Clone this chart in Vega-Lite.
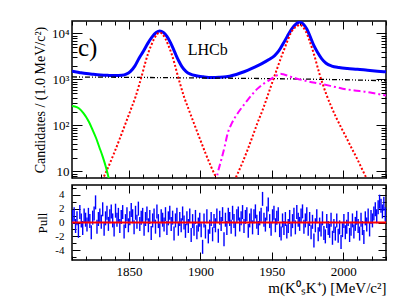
{
"$schema": "https://vega.github.io/schema/vega-lite/v6.json",
"background": "white",
"padding": {"left": 32, "top": 19, "right": 24, "bottom": 1},
"spacing": 3,
"config": {
  "font": "Liberation Serif, Times New Roman, serif",
  "view": {"stroke": "#000", "strokeWidth": 1.5},
  "axis": {"domain": false, "grid": false, "labelFont": "Liberation Serif, Times New Roman, serif", "titleFont": "Liberation Serif, Times New Roman, serif", "labelColor": "#000", "titleColor": "#000", "tickColor": "#000", "titleFontWeight": "normal", "tickWidth": 1, "minExtent": 0},
  "axisY": {"minExtent": 0},
  "axisX": {"minExtent": 0}
},
"vconcat": [
{
  "width": 314, "height": 157,
  "resolve": {"axis": {"x": "independent", "y": "independent"}},
  "layer": [
    {
      "data": {"values": [
        {"m":1810,"v":1510},{"m":1815,"v":1420},{"m":1820,"v":1340},{"m":1825,"v":1290},{"m":1830,"v":1250},{"m":1835,"v":1225},{"m":1840,"v":1210},{"m":1845,"v":1230},{"m":1848,"v":1300},{"m":1851,"v":1500},{"m":1854,"v":1950},{"m":1857,"v":2900},{"m":1860,"v":4100},{"m":1863,"v":6000},{"m":1866,"v":8300},{"m":1869,"v":10500},{"m":1871.5,"v":11300},{"m":1874,"v":10500},{"m":1876.5,"v":8600},{"m":1879,"v":6300},{"m":1881,"v":4600},{"m":1883,"v":3300},{"m":1885,"v":2450},{"m":1887,"v":1900},{"m":1890,"v":1480},{"m":1893,"v":1300},{"m":1897,"v":1200},{"m":1902,"v":1140},{"m":1908,"v":1100},{"m":1913,"v":1110},{"m":1918,"v":1140},{"m":1923,"v":1230},{"m":1928,"v":1380},{"m":1933,"v":1580},{"m":1938,"v":1850},{"m":1943,"v":2200},{"m":1948,"v":2700},{"m":1952,"v":3300},{"m":1955,"v":4200},{"m":1958,"v":6000},{"m":1961,"v":8800},{"m":1964,"v":12500},{"m":1967,"v":16000},{"m":1969.5,"v":17600},{"m":1972,"v":16000},{"m":1974.5,"v":12500},{"m":1977,"v":8300},{"m":1979.5,"v":5400},{"m":1982,"v":3900},{"m":1985,"v":2800},{"m":1988,"v":2250},{"m":1992,"v":1950},{"m":1997,"v":1810},{"m":2003,"v":1720},{"m":2010,"v":1660},{"m":2017,"v":1580},{"m":2024,"v":1510},{"m":2030,"v":1460}
      ]},
      "mark": {"type": "line", "color": "#0000ff", "strokeWidth": 3, "interpolate": "monotone", "clip": true},
      "encoding": {
        "x": {"field": "m", "type": "quantitative", "scale": {"domain": [1810, 2030], "nice": false, "zero": false},
              "axis": {"orient": "bottom", "title": null, "labels": false, "values": [1810,1820,1830,1840,1850,1860,1870,1880,1890,1900,1910,1920,1930,1940,1950,1960,1970,1980,1990,2000,2010,2020,2030], "tickSize": -8, "tickDash": {"condition": {"test": "datum.value % 50 != 0", "value": [4, 20]}, "value": []}}},
        "y": {"field": "v", "type": "quantitative", "scale": {"type": "log", "domain": [7.2, 18600], "nice": false},
              "axis": {"orient": "left", "title": "Candidates / (1.0 MeV/c²)", "titleFontSize": 14, "titlePadding": 4, "labelFontSize": 13, "labelPadding": 13, "tickSize": -10,
                       "values": [8,9,10,20,30,40,50,60,70,80,90,100,200,300,400,500,600,700,800,900,1000,2000,3000,4000,5000,6000,7000,8000,9000,10000],
                       "labelExpr": "datum.value == 10 ? '10' : datum.value == 100 ? '10²' : datum.value == 1000 ? '10³' : datum.value == 10000 ? '10⁴' : ''",
                       "tickDash": {"condition": {"test": "indexof([10,100,1000,10000], datum.value) < 0", "value": [5, 20]}, "value": []}}}
      }
    },
    {
      "data": {"values": [
        {"m":1810,"v":1130},{"m":1850,"v":1110},{"m":1900,"v":1075},{"m":1950,"v":1040},{"m":2000,"v":985},{"m":2030,"v":935}
      ]},
      "mark": {"type": "line", "color": "#000000", "strokeWidth": 1.3, "strokeDash": [5, 2, 1, 2, 1, 2], "clip": true},
      "encoding": {
        "x": {"field": "m", "type": "quantitative", "scale": {"domain": [1810, 2030], "nice": false, "zero": false},
              "axis": {"orient": "top", "title": null, "labels": false, "values": [1810,1820,1830,1840,1850,1860,1870,1880,1890,1900,1910,1920,1930,1940,1950,1960,1970,1980,1990,2000,2010,2020,2030], "tickSize": -8, "tickDash": {"condition": {"test": "datum.value % 50 != 0", "value": [4, 20]}, "value": []}}},
        "y": {"field": "v", "type": "quantitative", "scale": {"type": "log", "domain": [7.2, 18600], "nice": false},
              "axis": {"orient": "right", "title": null, "labels": false, "tickSize": -10,
                       "values": [8,9,10,20,30,40,50,60,70,80,90,100,200,300,400,500,600,700,800,900,1000,2000,3000,4000,5000,6000,7000,8000,9000,10000],
                       "tickDash": {"condition": {"test": "indexof([10,100,1000,10000], datum.value) < 0", "value": [5, 20]}, "value": []}}}
      }
    },
    {
      "data": {"values": [
        {"m":1827.5,"v":3.8},{"m":1831.5,"v":6.8},{"m":1835.5,"v":12.6},{"m":1839.5,"v":25},{"m":1843.5,"v":52},{"m":1847.5,"v":110},{"m":1851.5,"v":234},{"m":1854.5,"v":417},{"m":1857.5,"v":850},{"m":1859.5,"v":1410},{"m":1861.5,"v":2400},{"m":1863.5,"v":3800},{"m":1865.5,"v":5500},{"m":1867.5,"v":7590},{"m":1869.5,"v":9550},{"m":1871.5,"v":10470},{"m":1873.5,"v":9550},{"m":1875.5,"v":7590},{"m":1877.5,"v":5500},{"m":1879.5,"v":3800},{"m":1881.5,"v":2400},{"m":1883.5,"v":1410},{"m":1885.5,"v":850},{"m":1888.5,"v":417},{"m":1891.5,"v":234},{"m":1895.5,"v":110},{"m":1899.5,"v":52},{"m":1903.5,"v":25},{"m":1907.5,"v":12.6},{"m":1911.5,"v":6.8},{"m":1915.5,"v":3.8}
      ]},
      "mark": {"type": "line", "color": "#ff0000", "strokeWidth": 2, "strokeDash": [2, 2], "interpolate": "monotone", "clip": true},
      "encoding": {
        "x": {"field": "m", "type": "quantitative", "scale": {"domain": [1810, 2030], "nice": false, "zero": false}, "axis": null},
        "y": {"field": "v", "type": "quantitative", "scale": {"type": "log", "domain": [7.2, 18600], "nice": false}, "axis": null}
      }
    },
    {
      "data": {"values": [
        {"m":1922.5,"v":5.2},{"m":1926,"v":8.9},{"m":1929.5,"v":15.8},{"m":1933,"v":29.5},{"m":1936.5,"v":57.5},{"m":1939.8,"v":110},{"m":1943.5,"v":214},{"m":1946.8,"v":417},{"m":1950.5,"v":891},{"m":1954.1,"v":1860},{"m":1957.5,"v":3630},{"m":1959.5,"v":5250},{"m":1961.5,"v":7590},{"m":1963.5,"v":10500},{"m":1965.5,"v":12800},{"m":1967.5,"v":14100},{"m":1969.5,"v":15500},{"m":1971.5,"v":14100},{"m":1973.5,"v":11500},{"m":1976.3,"v":7080},{"m":1979.5,"v":3550},{"m":1983.3,"v":1350},{"m":1988,"v":490},{"m":1991.5,"v":263},{"m":1995,"v":151},{"m":1998.5,"v":91},{"m":2002,"v":56},{"m":2005.5,"v":34},{"m":2009,"v":21},{"m":2014.8,"v":8.9},{"m":2018.5,"v":5.2}
      ]},
      "mark": {"type": "line", "color": "#ff0000", "strokeWidth": 2, "strokeDash": [2, 2], "interpolate": "monotone", "clip": true},
      "encoding": {
        "x": {"field": "m", "type": "quantitative", "scale": {"domain": [1810, 2030], "nice": false, "zero": false}, "axis": null},
        "y": {"field": "v", "type": "quantitative", "scale": {"type": "log", "domain": [7.2, 18600], "nice": false}, "axis": null}
      }
    },
    {
      "data": {"values": [
        {"m":1910.5,"v":5},{"m":1912,"v":8.9},{"m":1914.4,"v":17},{"m":1917,"v":35},{"m":1919,"v":66},{"m":1922,"v":112},{"m":1926,"v":182},{"m":1930,"v":269},{"m":1933,"v":355},{"m":1937,"v":500},{"m":1940,"v":630},{"m":1944,"v":794},{"m":1947,"v":912},{"m":1950,"v":1050},{"m":1953,"v":1200},{"m":1956,"v":1320},{"m":1958,"v":1290},{"m":1962,"v":1175},{"m":1967,"v":1050},{"m":1975,"v":912},{"m":1983,"v":813},{"m":1991,"v":724},{"m":1999.7,"v":630},{"m":2008,"v":575},{"m":2016,"v":537},{"m":2023,"v":490},{"m":2030,"v":447}
      ]},
      "mark": {"type": "line", "color": "#ff00ff", "strokeWidth": 2, "strokeDash": [7, 3, 2, 3], "interpolate": "monotone", "clip": true},
      "encoding": {
        "x": {"field": "m", "type": "quantitative", "scale": {"domain": [1810, 2030], "nice": false, "zero": false}, "axis": null},
        "y": {"field": "v", "type": "quantitative", "scale": {"type": "log", "domain": [7.2, 18600], "nice": false}, "axis": null}
      }
    },
    {
      "data": {"values": [
        {"m":1810,"v":263},{"m":1812,"v":257},{"m":1815,"v":234},{"m":1818,"v":186},{"m":1820,"v":151},{"m":1822,"v":117},{"m":1824.5,"v":79},{"m":1827,"v":52},{"m":1829.1,"v":34},{"m":1831.5,"v":21},{"m":1833.8,"v":12.3},{"m":1836,"v":6.6},{"m":1838,"v":3.5}
      ]},
      "mark": {"type": "line", "color": "#00ff00", "strokeWidth": 2, "interpolate": "monotone", "clip": true},
      "encoding": {
        "x": {"field": "m", "type": "quantitative", "scale": {"domain": [1810, 2030], "nice": false, "zero": false}, "axis": null},
        "y": {"field": "v", "type": "quantitative", "scale": {"type": "log", "domain": [7.2, 18600], "nice": false}, "axis": null}
      }
    },
    {
      "data": {"values": [{"m": 1814.2, "v": 3160, "t": "c)"}]},
      "mark": {"type": "text", "align": "left", "baseline": "alphabetic", "fontSize": 25, "font": "Liberation Serif, Times New Roman, serif", "color": "#000"},
      "encoding": {
        "x": {"field": "m", "type": "quantitative", "scale": {"domain": [1810, 2030], "nice": false, "zero": false}, "axis": null},
        "y": {"field": "v", "type": "quantitative", "scale": {"type": "log", "domain": [7.2, 18600], "nice": false}, "axis": null},
        "text": {"field": "t"}
      }
    },
    {
      "data": {"values": [{"m": 1891.1, "v": 3400, "t": "LHCb"}]},
      "mark": {"type": "text", "align": "left", "baseline": "alphabetic", "fontSize": 16, "font": "Liberation Serif, Times New Roman, serif", "color": "#000"},
      "encoding": {
        "x": {"field": "m", "type": "quantitative", "scale": {"domain": [1810, 2030], "nice": false, "zero": false}, "axis": null},
        "y": {"field": "v", "type": "quantitative", "scale": {"type": "log", "domain": [7.2, 18600], "nice": false}, "axis": null},
        "text": {"field": "t"}
      }
    }
  ]
},
{
  "width": 314, "height": 75,
  "resolve": {"axis": {"x": "independent", "y": "independent"}},
  "layer": [
    {
      "data": {"values": [
        {"m":1810.5,"p":0.8},{"m":1811.5,"p":1.2},{"m":1812.5,"p":-0.5},{"m":1813.5,"p":0.6},{"m":1814.5,"p":-1.2},{"m":1815.5,"p":1.5},{"m":1816.5,"p":0.3},{"m":1817.5,"p":-0.8},{"m":1818.5,"p":1.0},{"m":1819.5,"p":0.4},
        {"m":1820.5,"p":-0.3},{"m":1821.5,"p":1.1},{"m":1822.5,"p":0.2},{"m":1823.5,"p":-1.4},{"m":1824.5,"p":0.7},{"m":1825.5,"p":1.3},{"m":1826.5,"p":2.9},{"m":1827.5,"p":-0.6},{"m":1828.5,"p":0.5},{"m":1829.5,"p":1.0},
        {"m":1830.5,"p":0.1},{"m":1831.5,"p":1.9},{"m":1832.5,"p":-0.9},{"m":1833.5,"p":0.6},{"m":1834.5,"p":1.4},{"m":1835.5,"p":-0.2},{"m":1836.5,"p":0.9},{"m":1837.5,"p":1.6},{"m":1838.5,"p":0.3},{"m":1839.5,"p":-1.0},
        {"m":1840.5,"p":1.7},{"m":1841.5,"p":0.4},{"m":1842.5,"p":1.1},{"m":1843.5,"p":-0.5},{"m":1844.5,"p":0.8},{"m":1845.5,"p":1.5},{"m":1846.5,"p":-1.3},{"m":1847.5,"p":0.2},{"m":1848.5,"p":1.2},{"m":1849.5,"p":-0.4},
        {"m":1850.5,"p":0.6},{"m":1851.5,"p":1.8},{"m":1852.5,"p":0.9},{"m":1853.5,"p":-0.7},{"m":1854.5,"p":1.4},{"m":1855.5,"p":0.1},{"m":1856.5,"p":2.0},{"m":1857.5,"p":-0.2},{"m":1858.5,"p":0.7},{"m":1859.5,"p":1.1},
        {"m":1860.5,"p":-0.9},{"m":1861.5,"p":0.5},{"m":1862.5,"p":1.3},{"m":1863.5,"p":-0.4},{"m":1864.5,"p":0.8},{"m":1865.5,"p":-1.5},{"m":1866.5,"p":0.3},{"m":1867.5,"p":1.0},{"m":1868.5,"p":-0.6},{"m":1869.5,"p":1.6},
        {"m":1870.5,"p":0.2},{"m":1871.5,"p":-1.1},{"m":1872.5,"p":0.9},{"m":1873.5,"p":0.4},{"m":1874.5,"p":-0.3},{"m":1875.5,"p":1.2},{"m":1876.5,"p":-0.8},{"m":1877.5,"p":0.6},{"m":1878.5,"p":1.4},{"m":1879.5,"p":-0.2},
        {"m":1880.5,"p":0.7},{"m":1881.5,"p":-1.6},{"m":1882.5,"p":0.3},{"m":1883.5,"p":1.1},{"m":1884.5,"p":-0.9},{"m":1885.5,"p":0.5},{"m":1886.5,"p":-0.4},{"m":1887.5,"p":1.3},{"m":1888.5,"p":0.0},{"m":1889.5,"p":-1.2},
        {"m":1890.5,"p":0.6},{"m":1891.5,"p":-0.5},{"m":1892.5,"p":1.0},{"m":1893.5,"p":-1.8},{"m":1894.5,"p":0.2},{"m":1895.5,"p":-0.9},{"m":1896.5,"p":0.8},{"m":1897.5,"p":-1.4},{"m":1898.5,"p":-0.3},{"m":1899.5,"p":0.4},
        {"m":1900.5,"p":-1.1},{"m":1901.5,"p":-3.5},{"m":1902.5,"p":0.3},{"m":1903.5,"p":-1.3},{"m":1904.5,"p":0.9},{"m":1905.5,"p":-2.0},{"m":1906.5,"p":-0.6},{"m":1907.5,"p":0.5},{"m":1908.5,"p":-1.7},{"m":1909.5,"p":0.2},
        {"m":1910.5,"p":-0.4},{"m":1911.5,"p":1.0},{"m":1912.5,"p":-1.9},{"m":1913.5,"p":0.7},{"m":1914.5,"p":-0.2},{"m":1915.5,"p":1.2},{"m":1916.5,"p":-2.4},{"m":1917.5,"p":0.4},{"m":1918.5,"p":-0.8},{"m":1919.5,"p":1.1},
        {"m":1920.5,"p":0.5},{"m":1921.5,"p":-0.6},{"m":1922.5,"p":1.4},{"m":1923.5,"p":0.2},{"m":1924.5,"p":-1.0},{"m":1925.5,"p":0.9},{"m":1926.5,"p":1.3},{"m":1927.5,"p":-0.3},{"m":1928.5,"p":0.6},{"m":1929.5,"p":1.5},
        {"m":1930.5,"p":-0.5},{"m":1931.5,"p":0.8},{"m":1932.5,"p":1.2},{"m":1933.5,"p":-1.2},{"m":1934.5,"p":0.3},{"m":1935.5,"p":1.0},{"m":1936.5,"p":-0.7},{"m":1937.5,"p":0.9},{"m":1938.5,"p":1.6},{"m":1939.5,"p":0.1},
        {"m":1940.5,"p":-0.8},{"m":1941.5,"p":0.6},{"m":1942.5,"p":1.1},{"m":1943.5,"p":3.4},{"m":1944.5,"p":0.4},{"m":1945.5,"p":-0.3},{"m":1946.5,"p":1.3},{"m":1947.5,"p":2.6},{"m":1948.5,"p":0.2},{"m":1949.5,"p":-0.9},
        {"m":1950.5,"p":0.9},{"m":1951.5,"p":1.4},{"m":1952.5,"p":-0.4},{"m":1953.5,"p":0.7},{"m":1954.5,"p":1.2},{"m":1955.5,"p":-1.1},{"m":1956.5,"p":-1.6},{"m":1957.5,"p":0.3},{"m":1958.5,"p":-0.8},{"m":1959.5,"p":0.5},
        {"m":1960.5,"p":-1.3},{"m":1961.5,"p":-0.5},{"m":1962.5,"p":0.8},{"m":1963.5,"p":-1.0},{"m":1964.5,"p":0.2},{"m":1965.5,"p":1.1},{"m":1966.5,"p":-0.7},{"m":1967.5,"p":1.5},{"m":1968.5,"p":0.4},{"m":1969.5,"p":-0.2},
        {"m":1970.5,"p":1.0},{"m":1971.5,"p":1.6},{"m":1972.5,"p":-0.6},{"m":1973.5,"p":0.3},{"m":1974.5,"p":1.2},{"m":1975.5,"p":-0.9},{"m":1976.5,"p":0.5},{"m":1977.5,"p":-1.4},{"m":1978.5,"p":0.1},{"m":1979.5,"p":-2.6},
        {"m":1980.5,"p":-0.4},{"m":1981.5,"p":0.9},{"m":1982.5,"p":-1.7},{"m":1983.5,"p":-0.3},{"m":1984.5,"p":-1.0},{"m":1985.5,"p":0.6},{"m":1986.5,"p":-1.5},{"m":1987.5,"p":-2.0},{"m":1988.5,"p":0.2},{"m":1989.5,"p":-0.8},
        {"m":1990.5,"p":-1.2},{"m":1991.5,"p":0.4},{"m":1992.5,"p":-2.2},{"m":1993.5,"p":-0.5},{"m":1994.5,"p":-1.6},{"m":1995.5,"p":0.3},{"m":1996.5,"p":-1.9},{"m":1997.5,"p":-0.7},{"m":1998.5,"p":-2.8},{"m":1999.5,"p":-1.1},
        {"m":2000.5,"p":0.2},{"m":2001.5,"p":-1.4},{"m":2002.5,"p":-0.6},{"m":2003.5,"p":0.5},{"m":2004.5,"p":-1.8},{"m":2005.5,"p":-0.9},{"m":2006.5,"p":0.3},{"m":2007.5,"p":-1.3},{"m":2008.5,"p":-0.2},{"m":2009.5,"p":0.7},
        {"m":2010.5,"p":-0.5},{"m":2011.5,"p":-1.6},{"m":2012.5,"p":0.4},{"m":2013.5,"p":-0.8},{"m":2014.5,"p":-2.1},{"m":2015.5,"p":0.6},{"m":2016.5,"p":-0.3},{"m":2017.5,"p":1.0},{"m":2018.5,"p":-1.0},{"m":2019.5,"p":0.8},
        {"m":2020.5,"p":0.3},{"m":2021.5,"p":1.3},{"m":2022.5,"p":1.9},{"m":2023.5,"p":0.9},{"m":2024.5,"p":2.2},{"m":2025.5,"p":3.0},{"m":2026.5,"p":2.4},{"m":2027.5,"p":1.6},{"m":2028.5,"p":2.7},{"m":2029.5,"p":1.2}
      ]},
      "mark": {"type": "tick", "orient": "vertical", "size": 14, "thickness": 1.4, "color": "#0000ff", "opacity": 1, "clip": true},
      "encoding": {
        "x": {"field": "m", "type": "quantitative", "scale": {"domain": [1810, 2030], "nice": false, "zero": false},
              "axis": {"orient": "bottom", "title": "m(K⁰ₛK⁺) [MeV/c²]", "titleFontSize": 15, "titleAnchor": "end", "titlePadding": 2, "labelFontSize": 13, "labelPadding": 13, "tickSize": -8,
                       "values": [1810,1820,1830,1840,1850,1860,1870,1880,1890,1900,1910,1920,1930,1940,1950,1960,1970,1980,1990,2000,2010,2020,2030],
                       "labelExpr": "datum.value % 50 == 0 ? '' + datum.value : ''", "labelFlush": false,
                       "tickDash": {"condition": {"test": "datum.value % 50 != 0", "value": [4, 20]}, "value": []}}},
        "y": {"field": "p", "type": "quantitative", "scale": {"domain": [-5.4, 5.4], "nice": false, "zero": false},
              "axis": {"orient": "left", "title": "Pull", "titleFontSize": 13, "titlePadding": 5, "labelFontSize": 11, "labelPadding": 16, "tickSize": -8,
                       "values": [-5,-4,-3,-2,-1,0,1,2,3,4,5],
                       "labelExpr": "datum.value % 2 == 0 ? '' + datum.value : ''",
                       "tickDash": {"condition": {"test": "datum.value % 2 != 0", "value": [4, 20]}, "value": []}}}
      }
    },
    {
      "data": {"values": [{"m": 1810, "p": 0}, {"m": 2030, "p": 0}]},
      "mark": {"type": "line", "color": "#ff0000", "strokeWidth": 2, "clip": true},
      "encoding": {
        "x": {"field": "m", "type": "quantitative", "scale": {"domain": [1810, 2030], "nice": false, "zero": false},
              "axis": {"orient": "top", "title": null, "labels": false, "tickSize": -8,
                       "values": [1810,1820,1830,1840,1850,1860,1870,1880,1890,1900,1910,1920,1930,1940,1950,1960,1970,1980,1990,2000,2010,2020,2030],
                       "tickDash": {"condition": {"test": "datum.value % 50 != 0", "value": [4, 20]}, "value": []}}},
        "y": {"field": "p", "type": "quantitative", "scale": {"domain": [-5.4, 5.4], "nice": false, "zero": false},
              "axis": {"orient": "right", "title": null, "labels": false, "tickSize": -8,
                       "values": [-5,-4,-3,-2,-1,0,1,2,3,4,5],
                       "tickDash": {"condition": {"test": "datum.value % 2 != 0", "value": [4, 20]}, "value": []}}}
      }
    }
  ]
}
]
}
